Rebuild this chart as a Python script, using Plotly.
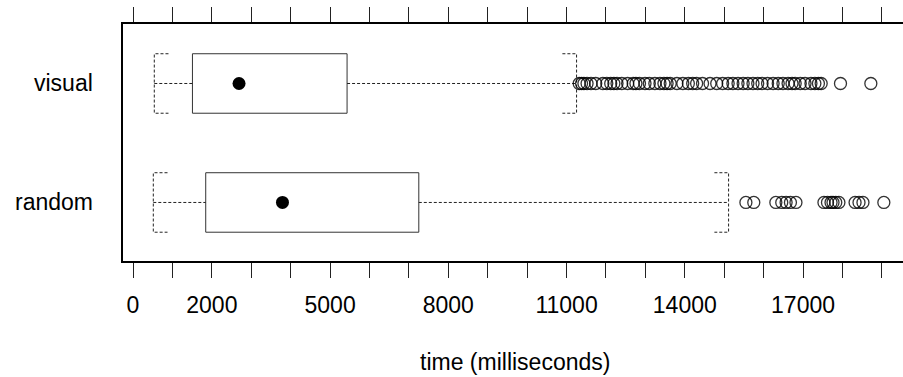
import plotly.graph_objects as go

# ---- data ----
groups = ["random", "visual"]
group_pos = [1, 2]
lower_whisker = [515, 540]
q1 = [1845, 1508]
median = [3792, 2690]
q3 = [7251, 5431]
upper_whisker = [15111, 11254]

outliers_random = [15550, 15750, 16310, 16460, 16570, 16680, 16820,
                   17530, 17620, 17710, 17760, 17830, 17910,
                   18320, 18420, 18520, 19050]
outliers_visual = [11320, 11380, 11440, 11520, 11620, 11740, 11920, 12020,
                   12120, 12200, 12280, 12400, 12550, 12690, 12760, 12850,
                   12990, 13100, 13240, 13370, 13470, 13550, 13630, 13800,
                   13950, 14090, 14200, 14300, 14450, 14640, 14810, 14960,
                   15100, 15220, 15350, 15480, 15600, 15730, 15850, 15960,
                   16100, 16240, 16370, 16490, 16620, 16720, 16800, 16930,
                   17050, 17200, 17300, 17390, 17460, 17950, 18720]

tick_values = list(range(0, 20000, 1000))
labelled_ticks = [0, 2000, 5000, 8000, 11000, 14000, 17000]
tick_labels = [str(v) if v in labelled_ticks else "" for v in tick_values]
x_title = "time (milliseconds)"

# ---- style ----
FONT = "Liberation Sans, Arial, Helvetica, sans-serif"
FS = 23
HALF = 0.25      # half box height (y units)
STUB = 360       # whisker staple stub length (x units)
DOT = "3px,2px"

fig = go.Figure()

for i, y in enumerate(group_pos):
    fig.add_trace(go.Scatter(
        x=[q1[i], q3[i], q3[i], q1[i], q1[i]],
        y=[y - HALF, y - HALF, y + HALF, y + HALF, y - HALF],
        mode="lines", line=dict(color="#333333", width=1),
        hoverinfo="skip", showlegend=False))
    fig.add_trace(go.Scatter(
        x=[lower_whisker[i], q1[i], None, q3[i], upper_whisker[i]],
        y=[y, y, None, y, y],
        mode="lines", line=dict(color="#222222", width=1, dash=DOT),
        hoverinfo="skip", showlegend=False))
    lw, uw = lower_whisker[i], upper_whisker[i]
    fig.add_trace(go.Scatter(
        x=[lw + STUB, lw, lw, lw + STUB, None, uw - STUB, uw, uw, uw - STUB],
        y=[y + HALF, y + HALF, y - HALF, y - HALF, None,
           y + HALF, y + HALF, y - HALF, y - HALF],
        mode="lines", line=dict(color="#222222", width=1, dash=DOT),
        hoverinfo="skip", showlegend=False))

fig.add_trace(go.Scatter(
    x=median, y=group_pos, mode="markers",
    marker=dict(symbol="circle", size=13, color="black"),
    showlegend=False))

for vals, y in ((outliers_random, 1), (outliers_visual, 2)):
    fig.add_trace(go.Scatter(
        x=vals, y=[y] * len(vals), mode="markers",
        marker=dict(symbol="circle-open", size=12,
                    color="rgba(0,0,0,0.8)", line=dict(width=1.3)),
        showlegend=False))

annotations = [dict(text=g, xref="paper", yref="y", x=(95 - 123) / 780, y=p,
                    xanchor="right", yanchor="middle", showarrow=False,
                    font=dict(size=FS))
               for g, p in zip(groups, group_pos)]
annotations.append(dict(text=x_title, xref="paper", yref="paper",
                        x=(515 - 123) / 780, y=(261 - 362) / 237,
                        xanchor="center", yanchor="middle", showarrow=False,
                        font=dict(size=FS)))

fig.update_layout(
    width=903, height=377,
    margin=dict(l=123, r=0, t=24, b=116, autoexpand=False),
    paper_bgcolor="white", plot_bgcolor="white",
    font=dict(family=FONT, size=FS, color="black"),
    xaxis=dict(range=[-254, 19536], tickvals=tick_values, ticktext=tick_labels,
               ticks="outside", ticklen=15, tickwidth=1, tickcolor="#222",
               showline=True, linecolor="black", linewidth=1.5,
               mirror="allticks", automargin=False,
               showgrid=False, zeroline=False, fixedrange=True,
               tickfont=dict(size=FS), ticklabelstandoff=8),
    yaxis=dict(range=[0.508, 2.5], showticklabels=False, automargin=False,
               ticks="", showline=True, linecolor="black", linewidth=1.5,
               showgrid=False, zeroline=False),
    annotations=annotations,
)

fig.write_html(
    "out.html",
    config={"displayModeBar": False},
    post_script="document.body.style.margin='0';"
                "document.body.style.overflow='hidden';")
